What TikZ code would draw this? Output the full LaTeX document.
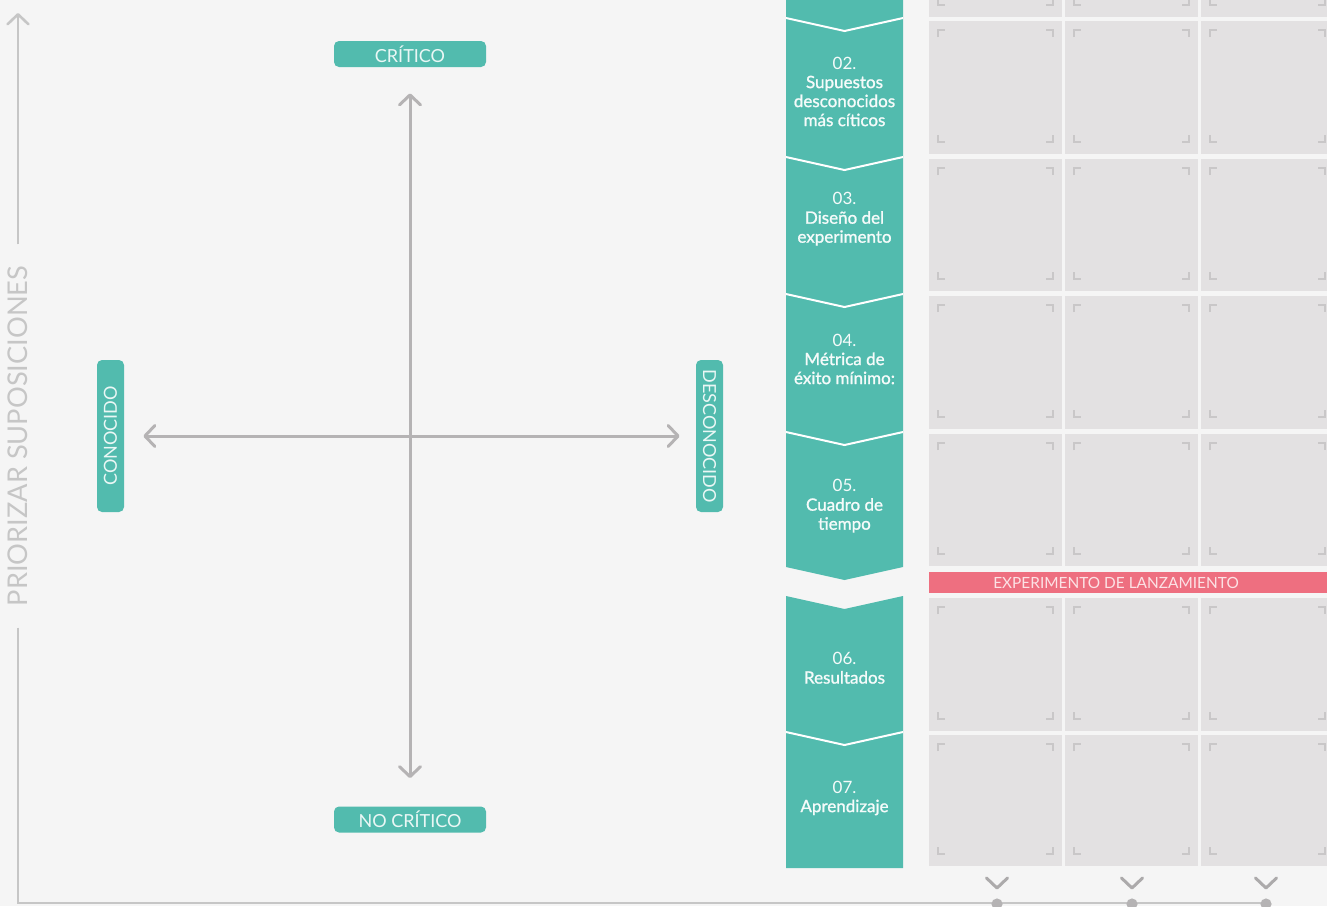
\documentclass[tikz,border=0pt]{standalone}
\usepackage{fontspec}
\setmainfont{Lato}
\newfontfamily\medfont{Lato}[FakeBold=1.2]
\usetikzlibrary{arrows.meta,positioning,calc}
\definecolor{bggrey}{HTML}{F5F5F5}
\definecolor{cellgrey}{HTML}{E3E1E2}
\definecolor{markgrey}{HTML}{C9C7C8}
\definecolor{arrowgrey}{HTML}{B5B3B4}
\definecolor{axisgrey}{HTML}{C6C6C6}
\definecolor{mteal}{HTML}{52BBAE}
\definecolor{mpink}{HTML}{EE6F80}

\begin{document}
\begin{tikzpicture}[x=0.5pt,y=-0.5pt,>={Straight Barb[length=5pt,width=10.5pt,round]},
  pill/.style={fill=mteal,rounded corners=2.5pt,text=white!88!mteal,inner sep=0pt,
    minimum width=76pt,minimum height=13pt,font=\fontsize{9}{10}\selectfont},
  segtxt/.style={align=center,text=white!94!mteal,font=\medfont\fontsize{8.5}{9.5}\selectfont},
  qarrow/.style={draw=arrowgrey,line width=1.5pt,line cap=round},
  axisline/.style={draw=axisgrey,line width=1.3pt},
  cornermark/.style={draw=markgrey,line width=0.7pt},
  chev/.style={draw=arrowgrey!95!black,line width=1.5pt,line cap=round,line join=round}]
\useasboundingbox (0,0) rectangle (1327,906);
\clip (0,0) rectangle (1327,906);
\fill[bggrey] (0,0) rectangle (1327,906);

% axes
\node[text=axisgrey,rotate=90,inner xsep=10.5pt,font=\fontsize{13.6}{14}\selectfont] (prio) at (18,436) {PRIORIZAR SUPOSICIONES};
\coordinate (ytip) at (18,13);
\coordinate (origin) at (18,903);
\coordinate (xend) at (1266,903);
\draw[axisline,->] (prio.east) -- (ytip);
\draw[axisline] (prio.west) -- (origin) -- (xend);
\foreach \x in {997,1132,1266} {
  \fill[arrowgrey] (\x,904) circle (2.8pt);
  \draw[chev] (\x-10.5,878) -- (\x,888) -- (\x+10.5,878);
}

% quadrant
\node[pill] (crit) at (410,54) {CRÍTICO};
\node[pill] (nocrit) at (410,819.5) {NO CRÍTICO};
\node[pill,rotate=90,minimum height=13.5pt] (con) at (110.5,436) {CONOCIDO};
\node[pill,rotate=-90,minimum height=13.5pt] (descon) at (709.5,436) {DESCONOCIDO};
\draw[qarrow,<->] ([yshift=-13pt]crit.south) -- ([yshift=14pt]nocrit.north);
\draw[qarrow,<->] ([xshift=9.5pt]con.south) -- ([xshift=-8pt]descon.south);

% steps column
\foreach \t/\b/\d in {-30/18/13,18/157/13,157/294/13,294/432/13,432/567/13,596/732/13,732/868/0}
  \fill[mteal] (786,\t) -- (844.5,\t+13) -- (903,\t) -- (903,\b) -- (844.5,\b+\d) -- (786,\b) -- cycle;
\foreach \b in {18,157,294,432,732}
  \draw[white,line width=1pt] (786,\b) -- (844.5,\b+13) -- (903,\b);
\foreach \n/\y/\txt in {02/91.5/{Supuestos\\desconocidos\\más cíticos},
    03/219/{Diseño del\\experimento},
    04/359/{Métrica de\\éxito mínimo:},
    05/506/{Cuadro de\\tiempo},
    06/668/{Resultados},
    07/798/{Aprendizaje}}
  \node[segtxt] (s\n) at (844.5,\y) {{\rmfamily\n.}\\\txt};

% grid of cards
\foreach \ya/\yb in {-116/17,21/154,159/291,296/429,434/566,598/731,735/866}
  \foreach \xa/\xb in {929/1062,1065/1198,1201/1334} {
    \fill[cellgrey] (\xa,\ya) rectangle (\xb,\yb);
    \draw[cornermark] (\xa+9,\ya+16) -- (\xa+9,\ya+9) -- (\xa+16,\ya+9);
    \draw[cornermark] (\xb-16,\ya+9) -- (\xb-9,\ya+9) -- (\xb-9,\ya+16);
    \draw[cornermark] (\xa+9,\yb-19) -- (\xa+9,\yb-12) -- (\xa+16,\yb-12);
    \draw[cornermark] (\xb-16,\yb-12) -- (\xb-9,\yb-12) -- (\xb-9,\yb-19);
  }
\fill[mpink] (929,572) rectangle (1334,593);
\node[text=white!80!mpink,font=\fontsize{7.7}{9}\selectfont] (launch) at (1116,583) {EXPERIMENTO DE LANZAMIENTO};
\end{tikzpicture}
\end{document}
